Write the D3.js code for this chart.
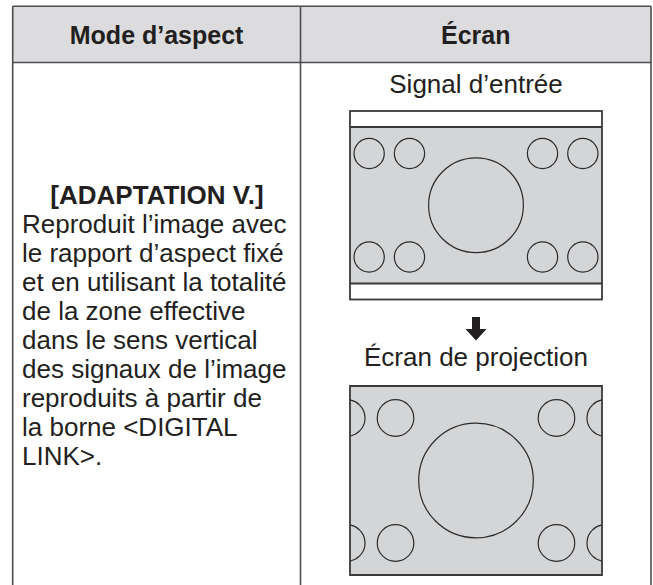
<!DOCTYPE html>
<html><head><meta charset="utf-8">
<script src="https://cdn.jsdelivr.net/npm/d3@7"></script>
<style>html,body{margin:0;padding:0;background:#fff;}</style>
</head><body>
<div id="chart"></div>
<script>
const headers = ["Mode d’aspect", "Écran"];
const modeTitle = "[ADAPTATION V.]";
const modeLines = ["Reproduit l’image avec","le rapport d’aspect fixé","et en utilisant la totalité","de la zone effective","dans le sens vertical","des signaux de l’image","reproduits à partir de","la borne <DIGITAL","LINK>."];
const inputLabel = "Signal d’entrée";
const outputLabel = "Écran de projection";
// image content in signal units (width 100, height 62)
const smallX = [7.6, 23.6, 76.4, 92.4];
const smallY = [10.5, 51.5];
const smallR = 6.0;
const bigCircle = {x: 50, y: 31, r: 18.8};

(function(){
const W = 653, H = 585;
const svg = d3.select("#chart").append("svg").attr("width", W).attr("height", H);
const font = "'Liberation Sans', Arial, sans-serif";
const ink = "#231f20", border = "#4d4d4f", grayFill = "#d4d5d7";

const colX = d3.scaleOrdinal().domain([0,1,2]).range([12.7, 300.5, 651]);
const tableTop = 6.2, headBottom = 62.5;

svg.append("rect").attr("x", colX(0)).attr("y", tableTop).attr("width", colX(2)-colX(0)).attr("height", headBottom-tableTop)
  .attr("fill", "#dcdcde");
const bl = svg.append("g").attr("stroke", border).attr("stroke-width", 1.6).attr("fill","none");
bl.append("line").attr("x1", colX(0)).attr("x2", colX(2)).attr("y1", tableTop).attr("y2", tableTop);
bl.append("line").attr("x1", colX(0)).attr("x2", colX(2)).attr("y1", headBottom).attr("y2", headBottom);
[0,1,2].forEach(i => bl.append("line").attr("x1", colX(i)).attr("x2", colX(i)).attr("y1", tableTop).attr("y2", H));

headers.forEach((h,i) => {
  svg.append("text").attr("x", (colX(i)+colX(i+1))/2).attr("y", 43.5).attr("text-anchor","middle")
    .attr("font-family", font).attr("font-weight","bold").attr("font-size", 25).attr("fill", ink).text(h);
});

svg.append("text").attr("x", 157).attr("y", 204).attr("text-anchor","middle").attr("font-family", font)
  .attr("font-weight","bold").attr("font-size", 26).attr("fill", ink).text(modeTitle);
const lineY = d3.scaleLinear().domain([0,1]).range([233, 262]);
svg.append("g").selectAll("text").data(modeLines).join("text")
  .attr("x", 22).attr("y", (d,i) => lineY(i)).attr("font-family", font).attr("font-size", 26).attr("fill", ink)
  .text(d => d);

const cx = 476;
svg.append("text").attr("x", cx).attr("y", 93).attr("text-anchor","middle").attr("font-family", font)
  .attr("font-size", 26).attr("fill", ink).text(inputLabel);
svg.append("text").attr("x", cx).attr("y", 366).attr("text-anchor","middle").attr("font-family", font)
  .attr("font-size", 26).attr("fill", ink).text(outputLabel);

const smalls = [];
smallY.forEach(y => smallX.forEach(x => smalls.push({x, y, r: smallR})));
const allCircles = smalls.concat([bigCircle]);
const defs = svg.append("defs");

function drawImage(id, frame, content, xs, ys) {
  const g = svg.append("g");
  defs.append("clipPath").attr("id", id).append("rect")
    .attr("x", content.x0).attr("y", content.y0).attr("width", content.x1-content.x0).attr("height", content.y1-content.y0);
  g.append("rect").attr("x", frame.x0).attr("y", frame.y0).attr("width", frame.x1-frame.x0).attr("height", frame.y1-frame.y0)
    .attr("fill", "#fff");
  g.append("rect").attr("x", content.x0).attr("y", content.y0).attr("width", content.x1-content.x0).attr("height", content.y1-content.y0)
    .attr("fill", grayFill);
  g.append("g").attr("clip-path", `url(#${id})`).selectAll("circle").data(allCircles).join("circle")
    .attr("cx", d => xs(d.x)).attr("cy", d => ys(d.y)).attr("r", d => Math.abs(xs(d.r)-xs(0)))
    .attr("fill","none").attr("stroke", "#2b2b2b").attr("stroke-width", 1.2);
  g.append("line").attr("x1", content.x0).attr("x2", content.x1).attr("y1", content.y0).attr("y2", content.y0)
    .attr("stroke", "#3a3a3a").attr("stroke-width", 1.8);
  g.append("line").attr("x1", content.x0).attr("x2", content.x1).attr("y1", content.y1).attr("y2", content.y1)
    .attr("stroke", "#3a3a3a").attr("stroke-width", 1.8);
  g.append("rect").attr("x", frame.x0).attr("y", frame.y0).attr("width", frame.x1-frame.x0).attr("height", frame.y1-frame.y0)
    .attr("fill", "none").attr("stroke", "#3a3a3a").attr("stroke-width", 1.8);
}

const inFrame = {x0: 350, x1: 602, y0: 111, y1: 299.5};
const inContent = {x0: 350, x1: 602, y0: 127, y1: 283.5};
const inX = d3.scaleLinear().domain([0,100]).range([inContent.x0, inContent.x1]);
const inY = d3.scaleLinear().domain([0,62]).range([inContent.y0, inContent.y1]);
drawImage("clipIn", inFrame, inContent, inX, inY);

const outFrame = {x0: 350, x1: 602, y0: 386, y1: 575};
const k = (outFrame.y1 - outFrame.y0) / 62;
const outX = d3.scaleLinear().domain([0,100]).range([cx - 50*k, cx + 50*k]);
const outY = d3.scaleLinear().domain([0,62]).range([outFrame.y0, outFrame.y1]);
drawImage("clipOut", outFrame, outFrame, outX, outY);

const arrow = d3.path();
arrow.moveTo(cx-4, 317); arrow.lineTo(cx+4, 317); arrow.lineTo(cx+4, 329); arrow.lineTo(cx+10.5, 329);
arrow.lineTo(cx, 340.5); arrow.lineTo(cx-10.5, 329); arrow.lineTo(cx-4, 329); arrow.closePath();
svg.append("path").attr("d", arrow.toString()).attr("fill", "#231f20");
})();
</script>
</body></html>
